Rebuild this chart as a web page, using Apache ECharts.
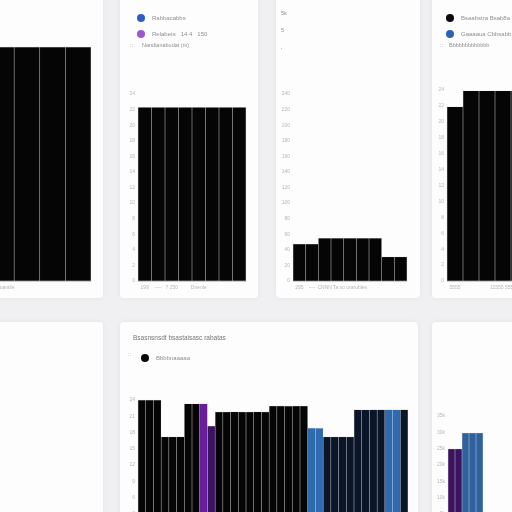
<!DOCTYPE html>
<html><head><meta charset="utf-8">
<script src="https://cdn.jsdelivr.net/npm/echarts@6/dist/echarts.min.js"></script>
<style>
html,body{margin:0;padding:0;width:512px;height:512px;overflow:hidden;background:#f0f0f2;font-family:Roboto,"Noto Sans",sans-serif;}
.card{position:absolute;background:#fdfdfd;box-shadow:0 0 5px rgba(0,0,0,0.06);border-radius:4px;}
</style></head><body>
<div class="card" id="pa" style="left:-150px;top:-20px;width:253px;height:318px"></div>
<div class="card" id="pb" style="left:120px;top:-20px;width:138px;height:318px"></div>
<div class="card" id="pc" style="left:276px;top:-20px;width:144px;height:318px"></div>
<div class="card" id="pd" style="left:432px;top:-20px;width:200px;height:318px"></div>
<div class="card" id="pe" style="left:-150px;top:322px;width:253px;height:220px"></div>
<div class="card" id="pf" style="left:120px;top:322px;width:298px;height:220px"></div>
<div class="card" id="pg" style="left:432px;top:322px;width:140px;height:220px"></div>
<script>
// ---------- data ----------
const aCategories = ['', '', '', '', 'Yrs quantile', '', '', ''];
const aValues = [120, 140, 162, 184, 233, 233, 233, 233];

const bCategories = ['199', '----', '7 250', '', 'Dnenie', '', '', ''];
const bValues = [22.3, 22.3, 22.3, 22.3, 22.3, 22.3, 22.3, 22.3];
const bLegend = ['Rabbacabbs', 'Relabets   14.4   150'];

const cCategories = ['295', '----', 'CNNN', '', 'Ta so urarubles', '', '', '', ''];
const cValues = [47.5, 47.5, 55, 55, 55, 55, 55, 31, 31];
const cTopNotes = ['5k', '5', '\''];

const dCategories = ['5555', '', '', '11555 5555', '', '', '', '', '', ''];
const dValues = [21.9, 23.9, 23.9, 23.9, 23.9, 23.9, 23.9, 23.9, 23.9, 23.9];
const dLegend = ['Bsaabstra Bsab8a   5k', 'Gaaaaua Cbbsabb   16.15'];

const fTitle = 'Bsasnsnsdt bsastaisasc rabatas';
const fLegend = 'Bbbbnaaaaa';
const fCategories = ['01','02','03','04','05','06','07','08','09','10','11','12','13','14','15','16','17','18',
  '19','20','21','22','23','24','25','26','27','28','29','30','31','32','33','34','35'];
const fValues = [24.0, 24.0, 24.0, 17.2, 17.2, 17.2, 23.3, 23.3, 23.3, 19.2,
  21.8, 21.8, 21.8, 21.8, 21.8, 21.8, 21.8, 22.9, 22.9, 22.9, 22.9, 22.9,
  18.8, 18.8, 17.2, 17.2, 17.2, 17.2, 22.2, 22.2, 22.2, 22.2, 22.2, 22.2, 22.2];
const fGroups = ['K','K','K','K','K','K','K','K','P','DP',
  'K','K','K','K','K','K','K','K','K','K','K','K',
  'B','B','N','N','N','N','N','N','N','N','B','B','N'];

const gCategories = ['A', 'B', 'C', 'D', 'E'];
const gValues = [24.9, 24.9, 29.8, 29.8, 29.8];
const gGroups = ['DP', 'DP', 'G', 'G', 'G'];

// ---------- styles ----------
const palette = {K: '#050505', P: '#6a1d9e', DP: '#3b1360', B: '#2e6bb0', N: '#0b1528', G: '#2f619e'};
const txt = '#909090';
const axisTxt = '#b8b8b8';

function xAxis(cats, showLabels) {
  return {
    type: 'category', data: cats,
    axisTick: {show: false},
    axisLine: {lineStyle: {color: '#d0d0d0', width: 1}},
    axisLabel: {show: showLabels, interval: 0, fontSize: 5, color: axisTxt, margin: 4, hideOverlap: false}
  };
}
function yAxis(max, interval, fmt) {
  return {
    type: 'value', min: 0, max: max, interval: interval,
    splitLine: {show: false}, axisLine: {show: false}, axisTick: {show: false},
    axisLabel: {fontSize: 5, color: axisTxt, margin: 3, formatter: fmt || '{value}'}
  };
}
function barSeries(name, values, colorFn) {
  return {
    name: name, type: 'bar', data: values, barCategoryGap: 0, barGap: 0, stack: 'one', silent: true,
    itemStyle: {color: colorFn, borderColor: 'rgba(80,80,80,0.22)', borderWidth: 0.4}
  };
}
function ghost(name, color) {
  return {name: name, type: 'bar', data: [], stack: 'one', itemStyle: {color: color}};
}
function legend(items, left, top) {
  return {
    data: items.map(it => ({name: it[0], itemStyle: {color: it[1], borderWidth: 0}})),
    orient: 'vertical', left: left, top: top, icon: 'circle',
    itemWidth: 8, itemHeight: 8, itemGap: 8,
    textStyle: {fontSize: 6, color: txt, padding: [0, 0, 0, 2]}
  };
}
function note(x, y, text) {
  return {type: 'text', left: x, top: y, style: {text: text, fontSize: 5.5, fill: txt}};
}
function make(id, option) {
  const c = echarts.init(document.getElementById(id), null, {renderer: 'canvas'});
  option.animation = false;
  c.setOption(option);
}

// Panel A
make('pa', {
  grid: {left: 36, right: 12, top: 50, bottom: 17},
  xAxis: xAxis(aCategories, true),
  yAxis: Object.assign(yAxis(250, 50), {axisLabel: {show: false}}),
  series: [barSeries('A', aValues, '#050505')]
});

// Panel B
make('pb', {
  grid: {left: 18, right: 12, top: 114, bottom: 17},
  legend: legend([[bLegend[0], '#2c5fc4'], [bLegend[1], '#9b59d0']], 12, 29),
  graphic: [note(10, 62, '::'), note(22, 62, 'Nandianabudat (m)')],
  xAxis: xAxis(bCategories, true),
  yAxis: yAxis(24, 2),
  series: [
    barSeries('B', bValues, '#050505'),
    ghost(bLegend[0], '#2c5fc4'),
    ghost(bLegend[1], '#9b59d0')
  ]
});

// Panel C
make('pc', {
  grid: {left: 17, right: 13, top: 114, bottom: 17},
  graphic: [note(5, 30, cTopNotes[0]), note(5, 47, cTopNotes[1]), note(5, 67, cTopNotes[2])],
  xAxis: xAxis(cCategories, true),
  yAxis: yAxis(240, 20),
  series: [barSeries('C', cValues, '#050505')]
});

// Panel D
make('pd', {
  grid: {left: 15, right: 25, top: 110, bottom: 17},
  legend: legend([[dLegend[0], '#0a0a0a'], [dLegend[1], '#2a63b8']], 9, 29),
  graphic: [note(8, 62, '::'), note(17, 62, 'Bbbbbbbbbbbbb')],
  xAxis: xAxis(dCategories, true),
  yAxis: yAxis(24, 2),
  series: [
    barSeries(dLegend[0], dValues, '#050505'),
    ghost(dLegend[1], '#2a63b8')
  ]
});

// Panel E (empty card)
make('pe', {series: []});

// Panel F
make('pf', {
  title: {text: fTitle, left: 8, top: 8, textStyle: {fontSize: 6.5, fontWeight: 'normal', color: '#777'}},
  legend: legend([[fLegend, '#0a0a0a']], 16, 27),
  graphic: [note(8, 29, '::')],
  grid: {left: 18, right: 10, top: 78, bottom: 12},
  xAxis: xAxis(fCategories, false),
  yAxis: yAxis(24, 3),
  series: [barSeries(fLegend, fValues, p => palette[fGroups[p.dataIndex]])]
});

// Panel G
make('pg', {
  grid: {left: 16, right: 89, top: 94, bottom: 12},
  xAxis: xAxis(gCategories, false),
  yAxis: yAxis(35, 5, '{value}k'),
  series: [barSeries('G', gValues, p => palette[gGroups[p.dataIndex]])]
});
</script>
</body></html>
